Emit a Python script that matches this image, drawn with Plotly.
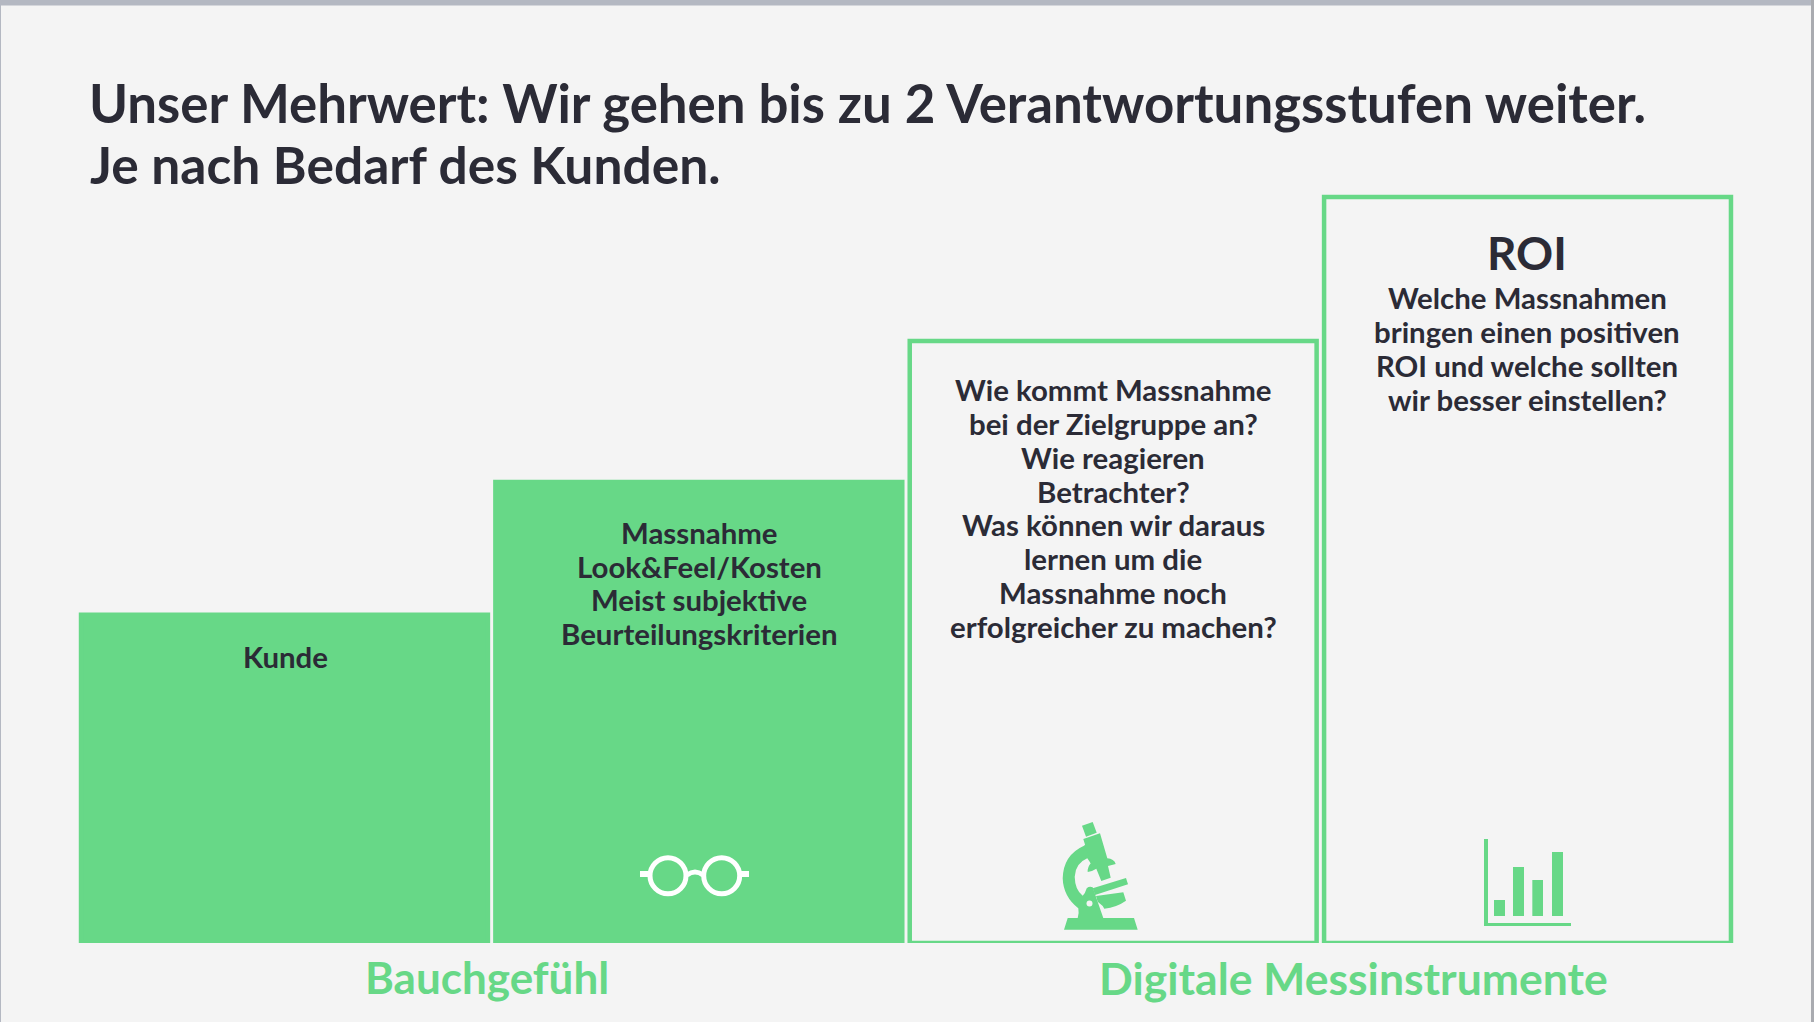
"""Stufenmodell: Verantwortungsstufen von Bauchgefuehl bis ROI."""

import plotly.graph_objects as go

# Data
stages = ["Kunde", "Massnahme", "Zielgruppe", "ROI"]
stage_heights = [44.0, 61.8, 80.7, 100.0]
stage_filled = [True, True, False, False]

title_lines = [
    "Unser Mehrwert: Wir gehen bis zu 2 Verantwortungsstufen weiter.",
    "Je nach Bedarf des Kunden.",
]
stage_texts = [
    ["Kunde"],
    ["Massnahme", "Look&Feel/Kosten", "Meist subjektive", "Beurteilungskriterien"],
    ["Wie kommt Massnahme", "bei der Zielgruppe an?", "Wie reagieren", "Betrachter?",
     "Was können wir daraus", "lernen um die", "Massnahme noch", "erfolgreicher zu machen?"],
    ["Welche Massnahmen", "bringen einen positiven", "ROI und welche sollten", "wir besser einstellen?"],
]
roi_heading = "ROI"
group_labels = ["Bauchgefühl", "Digitale Messinstrumente"]

W, H = 1814, 1022
GREEN = "#67d887"
DARK = "#2b2b36"
BG = "#f4f4f4"
EDGE = "#b4b8c2"
FONT = "Lato"
LINE_PITCH = 33.8
BODY_SIZE = 29.4


def icon_path(points, ox, oy):
    """Turn a path written in 3x crop coordinates into page pixels."""
    out = []
    for p in points:
        if isinstance(p, str):
            out.append(p)
        else:
            out.append(f"{ox + p[0] / 3:.1f},{oy + p[1] / 3:.1f}")
    return " ".join(out)


def page_shape(**kw):
    return dict(xref="x2", yref="y2", layer="above", **kw)


def filled(path, color=GREEN):
    return page_shape(type="path", path=path, fillcolor=color, line=dict(width=0))


def page_rect(x0, y0, x1, y1, color):
    return page_shape(type="rect", x0=x0, y0=y0, x1=x1, y1=y1, fillcolor=color, line=dict(width=0))


def label(text, x, y, size, color=DARK, xanchor="center", align="center"):
    return dict(
        text=text, x=x, y=y, xref="x2", yref="y2", xanchor=xanchor, yanchor="middle", align=align,
        showarrow=False, font=dict(family=FONT, size=size, color=color, weight=700),
    )


def text_block(lines, x, y_mid):
    """One annotation per line, since the line pitch here is tighter than plotly's."""
    first = y_mid - LINE_PITCH * (len(lines) - 1) / 2
    return [label(t, x, first + i * LINE_PITCH, BODY_SIZE) for i, t in enumerate(lines)]


fig = go.Figure()

fig.add_trace(go.Bar(
    x=stages,
    y=stage_heights,
    width=0.982,
    cliponaxis=False,
    marker=dict(
        color=[GREEN if f else "rgba(0,0,0,0)" for f in stage_filled],
        line=dict(color=GREEN, width=4.5),
    ),
    hoverinfo="skip",
    showlegend=False,
))

# Empty trace so the page-pixel axes exist for decoration and text
fig.add_trace(go.Scatter(x=[None], y=[None], xaxis="x2", yaxis="y2", hoverinfo="skip", showlegend=False))

shapes = [
    page_rect(0, 0, W, 5.5, EDGE),
    page_rect(0, 0, 1, H, EDGE),
    page_rect(W - 3, 0, W, H, "#a9abb0"),
]

# Glasses
for cx in (668, 721.7):
    shapes.append(page_shape(type="circle", x0=cx - 18, x1=cx + 18, y0=857.7, y1=893.7,
                             line=dict(color="white", width=5), fillcolor="rgba(0,0,0,0)"))
shapes.append(page_rect(640, 871, 649, 877, "white"))
shapes.append(page_rect(741, 871, 749, 877, "white"))
shapes.append(page_shape(type="path", path="M 687,875 Q 695,869 703,875",
                         line=dict(color="white", width=5), fillcolor="rgba(0,0,0,0)"))

# Microscope
scope_x, scope_y = 1000, 780
shapes.append(filled(icon_path(
    ["M", (252, 197), "Q", (190, 225), (188, 295), "Q", (190, 350), (235, 385),
     "Q", (238, 400), (233, 414), "L", (203, 414), "L", (192, 449), "L", (413, 449),
     "L", (402, 414), "L", (310, 414), "L", (292, 362), "L", (278, 322),
     "Q", (268, 318), (260, 325), "Q", (256, 340), (248, 347),
     "Q", (225, 330), (224, 290), "Q", (226, 250), (262, 235),
     "L", (272, 250), "L", (290, 215), "L", (270, 180), "Z"], scope_x, scope_y)))
shapes.append(filled(icon_path(
    ["M", (246, 137), "L", (278, 126), "L", (290, 158), "L", (258, 170), "Z"], scope_x, scope_y)))
shapes.append(filled(icon_path(
    ["M", (250, 177), "L", (300, 160), "L", (322, 235), "Q", (342, 236), (347, 252),
     "L", (324, 258), "L", (332, 293), "L", (304, 303), "L", (289, 266),
     "Q", (275, 275), (263, 276), "Q", (262, 262), (272, 250), "Z"], scope_x, scope_y)))
shapes.append(filled(icon_path(
    ["M", (278, 325), "L", (378, 294), "L", (384, 313), "L", (285, 345), "Z"], scope_x, scope_y)))
shapes.append(filled(icon_path(
    ["M", (288, 348), "L", (370, 337), "L", (378, 362), "Q", (350, 382), (313, 386),
     "L", (308, 378), "L", (293, 365), "Z"], scope_x, scope_y)))
shapes.append(page_shape(type="circle", x0=1086.5, x1=1092.5, y0=900.5, y1=906.5,
                         fillcolor=BG, line=dict(width=0)))

# Small bar chart icon
chart_x, chart_y = 1440, 800
for x0, y0, x1, y1 in [(132, 117, 144, 378), (132, 369, 393, 378), (162, 300, 195, 348),
                       (219, 201, 252, 348), (277, 240, 309, 348), (336, 156, 369, 348)]:
    shapes.append(page_rect(chart_x + x0 / 3, chart_y + y0 / 3, chart_x + x1 / 3, chart_y + y1 / 3, GREEN))

annotations = [
    label(title_lines[0], 87, 102.5, 52.8, xanchor="left", align="left"),
    label(title_lines[1], 88, 163.5, 51.5, xanchor="left", align="left"),
    label(roi_heading, 1527, 252, 46),
    label(group_labels[0], 487, 977, 44, color=GREEN),
    label(group_labels[1], 1353, 977, 44.5, color=GREEN),
]
annotations += text_block(stage_texts[0], 285, 656)
annotations += text_block(stage_texts[1], 699, 583)
annotations += text_block(stage_texts[2], 1113, 508)
annotations += text_block(stage_texts[3], 1527, 348.5)

fig.update_layout(
    width=W,
    height=H,
    margin=dict(l=0, r=0, t=0, b=0),
    paper_bgcolor=BG,
    plot_bgcolor="rgba(0,0,0,0)",
    bargap=0.018,
    xaxis=dict(domain=[77.3 / W, 1734.7 / W], visible=False, range=[-0.5, 3.5], fixedrange=True),
    yaxis=dict(domain=[79 / H, 925 / H], visible=False, range=[0, 113.4], fixedrange=True),
    xaxis2=dict(domain=[0, 1], range=[0, W], visible=False, anchor="y2", fixedrange=True),
    yaxis2=dict(domain=[0, 1], range=[H, 0], visible=False, anchor="x2", fixedrange=True),
    shapes=shapes,
    annotations=annotations,
)

# Page has a default body margin, take it off so the figure fills the window
fig.write_html(
    "out.html",
    post_script="document.body.style.margin = '0';",
    config={"displayModeBar": False},
)
